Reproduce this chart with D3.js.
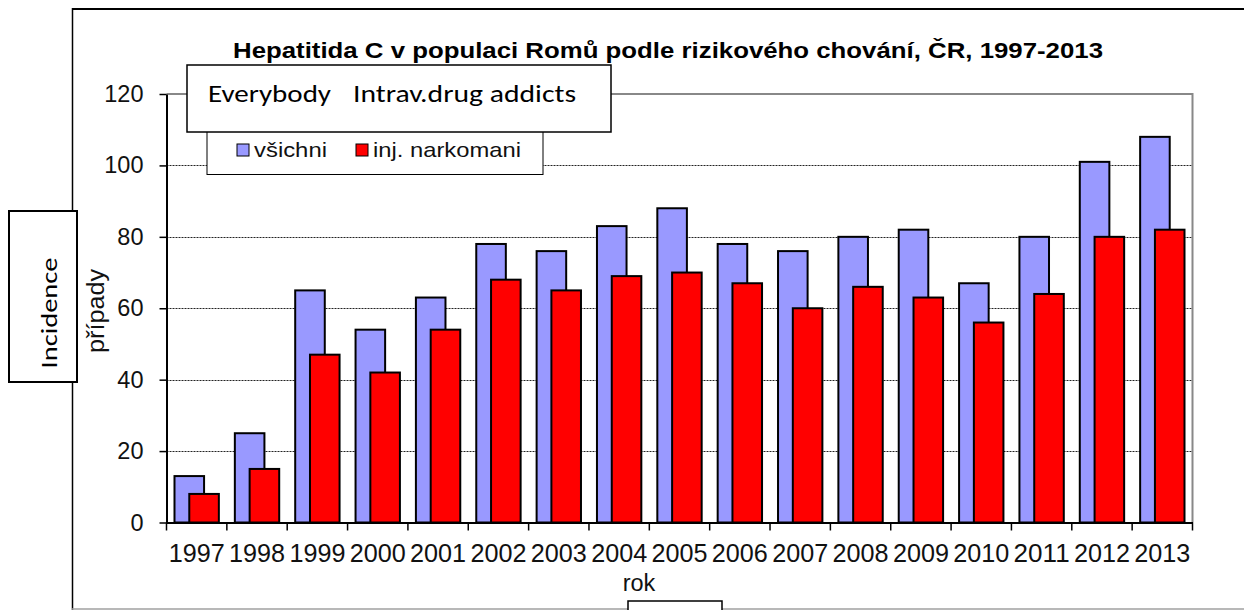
<!DOCTYPE html>
<html>
<head>
<meta charset="utf-8">
<script src="https://cdn.jsdelivr.net/npm/d3@7"></script>
<style>
	body { margin: 0; background: #fff; }
	svg { display: block; }
</style>
</head>
<body>
<div id="chart"></div>
<script>
// chart data
var years = ["1997", "1998", "1999", "2000", "2001", "2002", "2003", "2004", "2005",
	"2006", "2007", "2008", "2009", "2010", "2011", "2012", "2013"];
var vsichni = [13, 25, 65, 54, 63, 78, 76, 83, 88, 78, 76, 80, 82, 67, 80, 101, 108];
var injNarkomani = [8, 15, 47, 42, 54, 68, 65, 69, 70, 67, 60, 66, 63, 56, 64, 80, 82];
var yTicks = [0, 20, 40, 60, 80, 100, 120];
var seriesNames = ["všichni", "inj. narkomani"];

// texts
var titleText = "Hepatitida C v populaci Romů podle rizikového chování, ČR, 1997-2013";
var xTitle = "rok";
var yTitle = "případy";
var overlayLabels = ["Everybody", "Intrav.drug addicts"];
var sideLabel = "Incidence";

var OPTIONS = {
	width: 1244,
	height: 610,
	plot: {left: 166.5, right: 1192.5, top: 94, bottom: 522.5},
	colors: ["#9999ff", "#ff0000"],
	barRatio: 0.49,
	arial: "Arial, 'Liberation Sans', sans-serif",
	calibri: "Carlito, Calibri, Lato, sans-serif"
};

/**
 * Grouped bar chart renderer (Excel look)
 */
class BarChartRenderer {
	constructor(options) {
		this._options = options;
		this._svgEl = null;
		this._groupEl = null;
		this._xAxis = null;
		this._yAxis = null;
	}

	render(selector) {
		var o = this._options;
		this._svgEl = d3.select(selector).append("svg")
			.attr("width", o.width)
			.attr("height", o.height)
			.style("font-family", o.arial);

		this._svgEl.append("rect")
			.attr("width", o.width)
			.attr("height", o.height)
			.attr("fill", "#fff");

		this._groupEl = this._svgEl.append("g");
		return this;
	}

	update(series) {
		var p = this._options.plot;
		this._xAxis = d3.scaleBand().domain(years).range([p.left, p.right]);
		this._yAxis = d3.scaleLinear().domain([0, 120]).range([p.bottom, p.top]);

		this._renderFrame();
		this._renderGrid();
		this._renderBars(series);
		this._renderYAxis();
		this._renderXAxis();
		this._renderLegend(series);
		this._renderAnnotations();
		return this;
	}

	// outer chart border (only partly visible in the source)
	_renderFrame() {
		var g = this._groupEl;
		g.append("line").attr("x1", 72).attr("x2", 1244).attr("y1", 9).attr("y2", 9)
			.attr("stroke", "#000").attr("stroke-width", 2);
		g.append("line").attr("x1", 72.5).attr("x2", 72.5).attr("y1", 8).attr("y2", 610)
			.attr("stroke", "#000").attr("stroke-width", 1.5);
		g.append("line").attr("x1", 72).attr("x2", 1244).attr("y1", 609).attr("y2", 609)
			.attr("stroke", "#a0a0a0").attr("stroke-width", 1.5);

		g.append("text")
			.text(titleText)
			.attr("x", 668)
			.attr("y", 58)
			.attr("text-anchor", "middle")
			.attr("font-weight", "bold")
			.attr("font-size", 21.5)
			.attr("textLength", 870)
			.attr("lengthAdjust", "spacingAndGlyphs");
	}

	_renderGrid() {
		var p = this._options.plot;
		var y = this._yAxis;
		this._groupEl.selectAll(".grid")
			.data(yTicks.filter(function(t) { return t > 0 && t < 120; }))
			.enter().append("line")
			.attr("x1", p.left)
			.attr("x2", p.right)
			.attr("y1", function(d) { return Math.round(y(d)) + 0.5; })
			.attr("y2", function(d) { return Math.round(y(d)) + 0.5; })
			.attr("stroke", "#222")
			.attr("stroke-width", 1)
			.attr("stroke-dasharray", "2,1");

		// plot area border (top and right)
		this._groupEl.append("path")
			.attr("d", "M" + p.left + "," + p.top + "H" + p.right + "V" + p.bottom)
			.attr("fill", "none")
			.attr("stroke", "#888")
			.attr("stroke-width", 2);
	}

	_renderBars(series) {
		var o = this._options;
		var x = this._xAxis;
		var y = this._yAxis;
		var step = x.bandwidth();
		var barW = step * o.barRatio;
		var offset = (step - 1.5 * barW) / 2;

		series.forEach(function(s, si) {
			this._groupEl.append("g").selectAll("rect")
				.data(s.values)
				.enter().append("rect")
				.attr("x", function(d, i) { return x(years[i]) + offset + si * barW / 2; })
				.attr("y", function(d) { return y(d); })
				.attr("width", barW)
				.attr("height", function(d) { return y(0) - y(d); })
				.attr("fill", o.colors[si])
				.attr("stroke", "#000")
				.attr("stroke-width", 2);
		}, this);
	}

	_renderYAxis() {
		var p = this._options.plot;
		var axis = this._groupEl.append("g")
			.attr("transform", "translate(" + p.left + ",0)")
			.call(d3.axisLeft(this._yAxis).tickValues(yTicks).tickSize(7).tickPadding(16).tickSizeOuter(0));
		axis.select(".domain").attr("stroke", "#000").attr("stroke-width", 2);
		axis.selectAll(".tick line").attr("stroke", "#000").attr("stroke-width", 1.5);
		axis.selectAll("text").attr("font-size", 23.5).attr("font-family", this._options.arial).attr("fill", "#111");

		this._groupEl.append("text")
			.text(yTitle)
			.attr("transform", "translate(104,311) rotate(-90)")
			.attr("text-anchor", "middle")
			.attr("font-size", 23.5)
			.attr("fill", "#111")
			.attr("textLength", 84)
			.attr("lengthAdjust", "spacingAndGlyphs");
	}

	_renderXAxis() {
		var p = this._options.plot;
		var x = this._xAxis;
		var axis = this._groupEl.append("g")
			.attr("transform", "translate(0," + p.bottom + ")")
			.call(d3.axisBottom(x).tickSize(0).tickPadding(21).tickSizeOuter(0));
		axis.select(".domain").attr("stroke", "#000").attr("stroke-width", 2);
		axis.selectAll("text")
			.attr("font-size", 25.5)
			.attr("font-family", this._options.arial)
			.attr("fill", "#111")
			.attr("textLength", 56)
			.attr("lengthAdjust", "spacingAndGlyphs");

		// category boundary ticks
		var bounds = years.map(function(d) { return x(d); }).concat([p.right]);
		this._groupEl.append("g").selectAll("line")
			.data(bounds)
			.enter().append("line")
			.attr("x1", function(d) { return d; })
			.attr("x2", function(d) { return d; })
			.attr("y1", p.bottom)
			.attr("y2", p.bottom + 8)
			.attr("stroke", "#000")
			.attr("stroke-width", 1.5);

		this._groupEl.append("text")
			.text(xTitle)
			.attr("x", 639)
			.attr("y", 590.5)
			.attr("text-anchor", "middle")
			.attr("font-size", 23.5)
			.attr("fill", "#111");
	}

	_renderLegend(series) {
		var o = this._options;
		var lg = this._groupEl.append("g");
		lg.append("rect")
			.attr("x", 207).attr("y", 118).attr("width", 336).attr("height", 56.5)
			.attr("fill", "#fff").attr("stroke", "#000").attr("stroke-width", 1);

		var itemX = [237, 356];
		var textW = [73, 148];
		series.forEach(function(s, i) {
			lg.append("rect")
				.attr("x", itemX[i]).attr("y", 144).attr("width", 12).attr("height", 12)
				.attr("fill", o.colors[i]).attr("stroke", "#000").attr("stroke-width", 1);
			lg.append("text")
				.text(s.name)
				.attr("x", itemX[i] + 17)
				.attr("y", 157)
				.attr("font-size", 21)
				.attr("fill", "#111")
				.attr("textLength", textW[i])
				.attr("lengthAdjust", "spacingAndGlyphs");
		});
	}

	// pasted-over text boxes
	_renderAnnotations() {
		var o = this._options;
		var g = this._groupEl;

		g.append("rect")
			.attr("x", 187).attr("y", 65).attr("width", 424).attr("height", 67)
			.attr("fill", "#fff").attr("stroke", "#000").attr("stroke-width", 1.5);
		var labelX = [208, 353];
		var labelW = [123, 223];
		overlayLabels.forEach(function(l, i) {
			g.append("text")
				.text(l)
				.attr("x", labelX[i])
				.attr("y", 102)
				.attr("font-family", o.calibri)
				.attr("font-size", 23.5)
				.attr("textLength", labelW[i])
				.attr("lengthAdjust", "spacingAndGlyphs");
		});

		g.append("rect")
			.attr("x", 9).attr("y", 211).attr("width", 68).attr("height", 171)
			.attr("fill", "#fff").attr("stroke", "#000").attr("stroke-width", 2);
		g.append("text")
			.text(sideLabel)
			.attr("transform", "translate(56.5,313) rotate(-90)")
			.attr("text-anchor", "middle")
			.attr("font-family", o.calibri)
			.attr("font-size", 23)
			.attr("textLength", 111)
			.attr("lengthAdjust", "spacingAndGlyphs");

		g.append("rect")
			.attr("x", 628).attr("y", 601).attr("width", 94).attr("height", 20)
			.attr("fill", "#fff").attr("stroke", "#000").attr("stroke-width", 1.5);
	}
}

var series = [
	{name: seriesNames[0], values: vsichni},
	{name: seriesNames[1], values: injNarkomani}
];

new BarChartRenderer(OPTIONS).render("#chart").update(series);
</script>
</body>
</html>
